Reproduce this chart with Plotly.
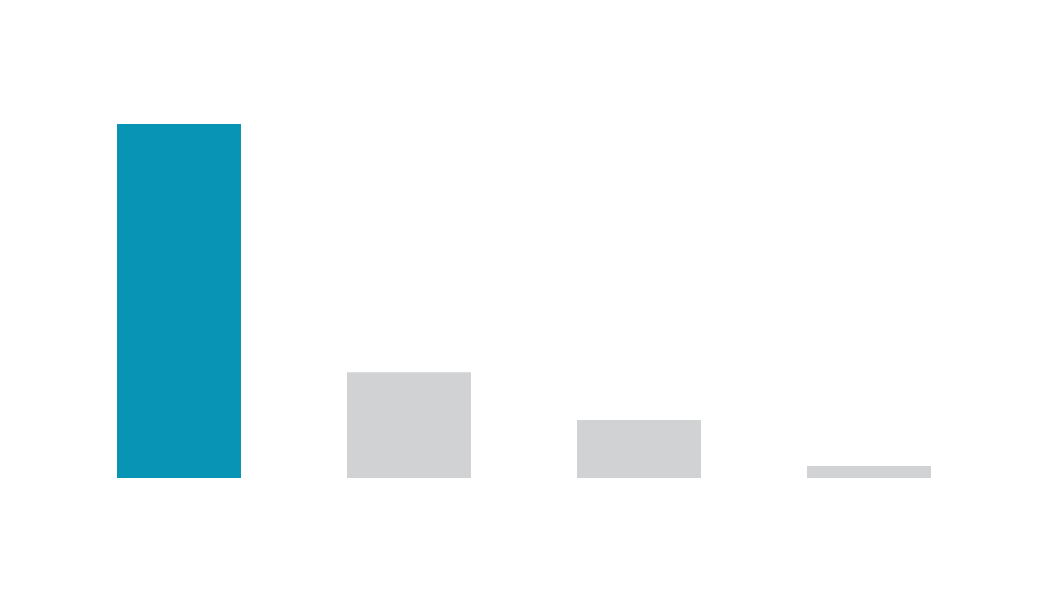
import plotly.graph_objects as go

categories = ["A", "B", "C", "D"]
values = [100, 29.9, 16.4, 3.4]
colors = ["#0894b4", "#d1d2d4", "#d1d2d4", "#d1d2d4"]

fig = go.Figure(go.Bar(x=categories, y=values, marker=dict(color=colors, line=dict(width=0)),
                       hoverinfo="x+y"))
fig.update_layout(
    width=1047, height=591,
    margin=dict(l=56, r=71, t=116, b=121),
    paper_bgcolor="#ffffff", plot_bgcolor="#ffffff",
    bargap=0.461, showlegend=False,
    xaxis=dict(visible=False, range=[-0.5, 3.5]),
    yaxis=dict(visible=False, range=[0, 100]),
)
fig.write_html("out.html")
